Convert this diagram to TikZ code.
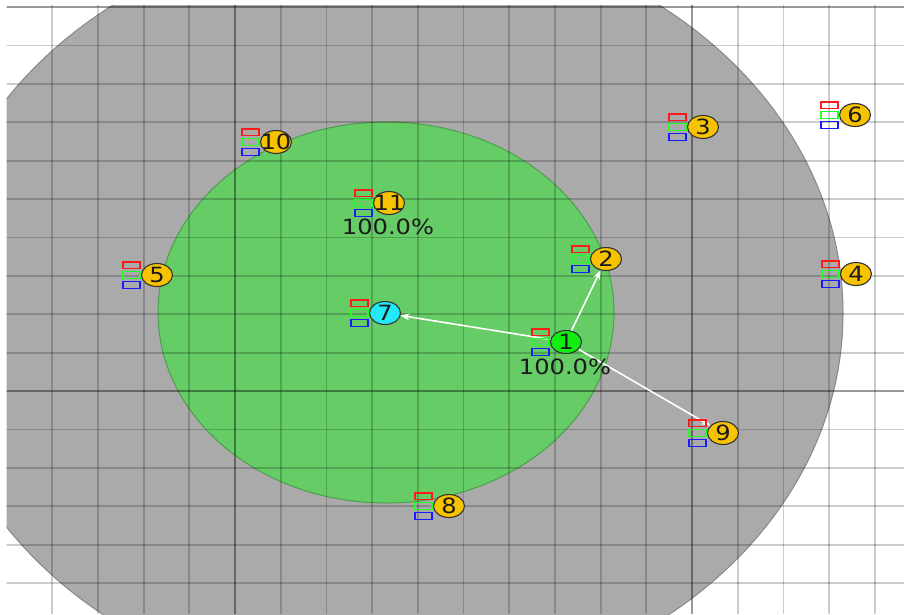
\documentclass[tikz,border=0pt]{standalone}
\usepackage{fontspec}
\newfontfamily\lblfont[FakeStretch=1.15]{DejaVu Sans}
\usetikzlibrary{arrows.meta,calc,shapes.geometric}
\definecolor{grayzone}{HTML}{AAAAAA}
\definecolor{grayedge}{HTML}{888888}
\definecolor{greenzone}{HTML}{66CC66}
\definecolor{greenedge}{HTML}{4E9E4E}
\definecolor{nodeyellow}{HTML}{F7C200}
\definecolor{nodegreen}{HTML}{11EE11}
\definecolor{nodecyan}{HTML}{22E8F8}
\definecolor{txt}{HTML}{1A1A1A}
\definecolor{boxred}{HTML}{FF1A1A}
\definecolor{boxgreen}{HTML}{22FF22}
\definecolor{boxblue}{HTML}{1A1AFF}
\pgfdeclarelayer{bg}
\pgfdeclarelayer{mid}
\pgfsetlayers{bg,mid,main}
\newcommand\trio[1]{%
  \draw[redbox] ($(#1.center)+(-34,-13)$) rectangle ++(17,6.5);
  \draw[greenbox] ($(#1.center)+(-34,-3.3)$) rectangle ++(17,6.5);
  \draw[bluebox] ($(#1.center)+(-34,6.8)$) rectangle ++(17,6.5);
}
\begin{document}
\begin{tikzpicture}[x=1pt,y=-1pt,
  minorln/.style={black,opacity=0.2,line width=1.8pt},
  majorln/.style={black,opacity=0.4,line width=2.2pt},
  nd/.style={ellipse,draw=black!80,line width=1.1pt,fill=nodeyellow,minimum width=31pt,minimum height=23pt,inner sep=0pt},
  num/.style={font=\lblfont\fontsize{21}{25}\selectfont,text=txt,inner sep=0pt},
  pct/.style={font=\lblfont\fontsize{21}{25}\selectfont,text=txt,inner sep=0pt},
  link/.style={white,line width=1.6pt,-{Stealth[length=9pt,width=7pt]}},
  redbox/.style={draw=boxred,line width=1.3pt},
  greenbox/.style={draw=boxgreen,line width=1.3pt},
  bluebox/.style={draw=boxblue,line width=1.3pt}]
\useasboundingbox (0,0) rectangle (904,614);

\begin{pgfonlayer}{bg}
\fill[white] (0,0) rectangle (904,614);
\begin{scope}
  \clip (6.5,5.5) rectangle (904,614);
  \fill[grayzone] (386,313) ellipse [x radius=457, y radius=384];
  \draw[grayedge,line width=1pt] (386,313) ellipse [x radius=457, y radius=384];
  \fill[greenzone] (386,312.5) ellipse [x radius=228, y radius=190.5];
  \draw[greenedge,line width=1pt] (386,312.5) ellipse [x radius=228, y radius=190.5];
  \foreach \k in {1,2,3,4,6,7,8,9,10,11,12,13,14,16,17,18,19} {
    \draw[minorln] ({6.5+45.7*\k},0) -- ({6.5+45.7*\k},614);
  }
  \foreach \k in {5,15} {
    \draw[majorln] ({6.5+45.7*\k},0) -- ({6.5+45.7*\k},614);
  }
  \foreach \k in {1,2,3,4,5,6,7,8,9,11,12,13,14,15} {
    \draw[minorln] (0,{7+38.4*\k}) -- (904,{7+38.4*\k});
  }
  \foreach \k in {0,10} {
    \draw[majorln] (0,{7+38.4*\k}) -- (904,{7+38.4*\k});
  }
\end{scope}
\end{pgfonlayer}

% nodes
\node[nd,fill=nodegreen] (n1) at (566,342) {};
\node[nd] (n2) at (606,259) {};
\node[nd] (n3) at (703,127) {};
\node[nd] (n4) at (856,274) {};
\node[nd] (n5) at (157,275) {};
\node[nd] (n6) at (855,115) {};
\node[nd,fill=nodecyan] (n7) at (385,313) {};
\node[nd] (n8) at (449,506) {};
\node[nd] (n9) at (723,433) {};
\node[nd] (n10) at (276,142) {};
\node[nd] (n11) at (389,203) {};

\foreach \i in {1,...,11} {
  \node[num] (t\i) at (n\i.center) {\i};
  \trio{n\i}
}

\node[pct] (p1) at ($(n1.center)+(-1,24.5)$) {100.0\%};
\node[pct] (p11) at ($(n11.center)+(-1,24)$) {100.0\%};

\begin{pgfonlayer}{mid}
  \draw[link] (n1.center) -- (n7);
  \draw[link] (n1.center) -- (n2);
  \draw[link] (n1.center) -- (n9);
\end{pgfonlayer}
\end{tikzpicture}
\end{document}
